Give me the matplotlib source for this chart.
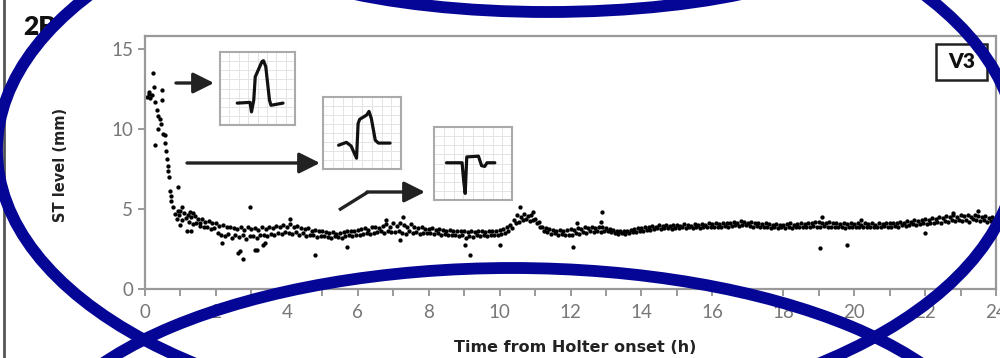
import numpy as np
import matplotlib
matplotlib.use("Agg")
import matplotlib.pyplot as plt
from matplotlib.patches import Ellipse, Rectangle

plt.rcParams['font.family'] = ['Lato', 'DejaVu Sans']

# ---- data ----
# steep early part (0-1 h)
early_t = [0.05, 0.10, 0.12, 0.14, 0.19, 0.23, 0.26, 0.28, 0.28, 0.33, 0.36, 0.38, 0.42, 0.45,
           0.47, 0.47, 0.50, 0.56, 0.56, 0.60, 0.61, 0.64, 0.66, 0.69, 0.70, 0.72, 0.74, 0.80,
           0.85, 0.89, 0.92, 0.94, 0.96, 0.99]
early_st = [12.0, 12.3, 12.2, 11.9, 12.1, 13.5, 12.6, 11.7, 9.0, 11.2, 10.8, 10.0, 10.6, 10.3,
            12.4, 11.8, 9.7, 9.6, 9.1, 8.6, 8.1, 7.7, 7.4, 7.0, 6.1, 5.8, 5.5, 5.15,
            4.7, 4.4, 4.9, 6.4, 4.6, 4.0]

# plateau readings, one every 3 min from 1 h to 24 h
st_01_06 = [4.9, 4.3, 4.75, 4.45, 4.6, 4.2, 4.5, 4.05, 4.55, 4.1, 4.35, 3.95, 4.4, 3.85, 4.2, 3.9, 4.25, 3.75, 4.1, 3.8,
            4.1, 3.5, 3.95, 3.4, 4.0, 3.3, 3.85, 3.45, 3.9, 3.2, 3.8, 3.35, 3.75, 3.25, 3.9, 3.4, 3.7, 3.15, 3.85, 3.3,
            3.75, 3.3, 3.8, 3.2, 3.7, 3.35, 3.85, 3.4, 3.75, 3.3, 3.9, 3.45, 3.8, 3.4, 3.95, 3.5, 3.85, 3.45, 4.0, 3.55,
            3.9, 3.5, 4.05, 3.45, 3.85, 3.55, 3.95, 3.4, 3.8, 3.5, 3.75, 3.3, 3.8, 3.4, 3.65, 3.35, 3.7, 3.25, 3.6, 3.3,
            3.6, 3.3, 3.55, 3.25, 3.5, 3.2, 3.55, 3.3, 3.45, 3.25, 3.5, 3.2, 3.55, 3.3, 3.6, 3.35, 3.6, 3.3, 3.65, 3.4]
st_06_12 = [3.7, 3.4, 3.75, 3.45, 3.8, 3.5, 3.7, 3.45, 3.85, 3.5, 3.9, 3.55, 3.8, 3.6, 3.95, 3.5, 4.05, 3.6, 3.9, 3.55,
            4.1, 3.55, 3.95, 3.6, 4.15, 3.5, 4.0, 3.45, 3.9, 3.6, 4.05, 3.5, 3.85, 3.55, 3.8, 3.45, 3.85, 3.5, 3.75, 3.5,
            3.75, 3.5, 3.8, 3.45, 3.7, 3.5, 3.75, 3.4, 3.7, 3.45, 3.65, 3.4, 3.7, 3.35, 3.6, 3.4, 3.65, 3.3, 3.6, 3.35,
            3.6, 3.2, 3.55, 3.3, 3.6, 3.25, 3.55, 3.35, 3.65, 3.3, 3.6, 3.35, 3.55, 3.3, 3.6, 3.4, 3.65, 3.35, 3.6, 3.4,
            3.7, 3.45, 3.75, 3.5, 3.85, 3.6, 4.0, 3.8, 4.3, 4.1, 4.6, 4.2, 4.5, 4.3, 4.7, 4.35, 4.55, 4.25, 4.6, 4.3,
            4.4, 4.1, 4.2, 3.9, 3.9, 3.6, 3.8, 3.55, 3.75, 3.45, 3.7, 3.5, 3.65, 3.4, 3.7, 3.45, 3.65, 3.4, 3.7, 3.35]
st_12_18 = [3.75, 3.4, 3.7, 3.5, 3.8, 3.45, 3.75, 3.55, 3.85, 3.5, 3.8, 3.6, 3.9, 3.55, 3.8, 3.6, 3.85, 3.55, 3.9, 3.6,
            3.8, 3.6, 3.75, 3.55, 3.7, 3.5, 3.65, 3.45, 3.6, 3.5, 3.65, 3.45, 3.6, 3.5, 3.7, 3.55, 3.75, 3.55, 3.8, 3.6,
            3.8, 3.65, 3.85, 3.7, 3.9, 3.7, 3.95, 3.75, 3.9, 3.8, 4.0, 3.75, 3.95, 3.8, 4.0, 3.8, 3.95, 3.75, 4.0, 3.8,
            4.0, 3.8, 3.95, 3.85, 4.05, 3.8, 4.0, 3.85, 3.95, 3.8, 4.05, 3.85, 4.0, 3.8, 4.05, 3.85, 4.0, 3.85, 4.1, 3.85,
            4.05, 3.9, 4.1, 3.85, 4.05, 3.9, 4.15, 3.95, 4.1, 3.9, 4.15, 3.95, 4.2, 4.0, 4.15, 3.95, 4.25, 4.0, 4.2, 4.0,
            4.15, 3.95, 4.2, 3.9, 4.1, 3.95, 4.15, 3.85, 4.05, 3.9, 4.1, 3.85, 4.05, 3.8, 4.0, 3.85, 4.05, 3.8, 4.0, 3.85]
st_18_24 = [4.0, 3.8, 4.05, 3.85, 4.1, 3.8, 4.0, 3.85, 4.05, 3.9, 4.1, 3.85, 4.05, 3.9, 4.15, 3.9, 4.1, 3.95, 4.2, 3.9,
            4.2, 3.85, 4.15, 3.95, 4.1, 3.9, 4.2, 3.85, 4.1, 3.9, 4.15, 3.85, 4.05, 3.9, 4.1, 3.8, 4.05, 3.85, 4.1, 3.9,
            4.05, 3.85, 4.1, 3.9, 4.0, 3.85, 4.1, 3.9, 4.05, 3.85, 4.1, 3.9, 4.0, 3.85, 4.1, 3.9, 4.05, 3.95, 4.15, 3.9,
            4.1, 3.9, 4.15, 3.95, 4.1, 3.9, 4.2, 4.0, 4.15, 3.95, 4.25, 4.0, 4.2, 4.05, 4.3, 4.0, 4.25, 4.05, 4.3, 4.1,
            4.35, 4.05, 4.3, 4.1, 4.45, 4.15, 4.4, 4.2, 4.5, 4.15, 4.45, 4.25, 4.55, 4.2, 4.5, 4.3, 4.6, 4.25, 4.5, 4.3,
            4.6, 4.25, 4.55, 4.3, 4.65, 4.2, 4.5, 4.35, 4.6, 4.3, 4.55, 4.25, 4.5, 4.3, 4.55, 4.2, 4.45, 4.25, 4.5, 4.3]

# isolated points away from the band
out_t = [1.03, 1.27, 1.36, 1.18, 1.30, 1.55, 2.16, 2.63, 2.77, 2.68, 2.96, 3.10, 3.15, 3.33, 3.38,
         4.09, 4.79, 5.69, 6.81, 7.19, 7.28, 9.02, 9.17, 10.0, 10.57, 10.95, 12.07, 12.17, 12.85,
         12.88, 19.04, 19.08, 19.79, 20.2, 22.0, 22.8, 23.8, 23.5]
out_st = [5.15, 4.8, 4.75, 3.6, 3.6, 4.1, 2.85, 2.27, 1.9, 2.35, 5.1, 2.45, 2.45, 2.75, 2.9,
          4.4, 2.1, 2.65, 4.3, 3.06, 4.5, 2.75, 2.1, 2.75, 5.15, 4.8, 2.65, 4.1, 4.2,
          4.83, 2.54, 4.5, 2.75, 4.3, 3.48, 4.75, 3.5, 4.9]

plateau_st = st_01_06 + st_06_12 + st_12_18 + st_18_24
plateau_t = 1.0 + 0.05 * np.arange(len(plateau_st))

# ECG snippets inside the three inset boxes (box-normalised coordinates)
ecg1_u = [0.23, 0.40, 0.42, 0.45, 0.47, 0.50, 0.56, 0.58, 0.61, 0.66, 0.68, 0.84]
ecg1_v = [0.30, 0.31, 0.18, 0.34, 0.66, 0.73, 0.87, 0.88, 0.80, 0.34, 0.27, 0.30]
ecg2_u = [0.20, 0.30, 0.36, 0.43, 0.45, 0.47, 0.56, 0.59, 0.62, 0.67, 0.71, 0.86]
ecg2_v = [0.33, 0.37, 0.32, 0.15, 0.63, 0.69, 0.75, 0.80, 0.70, 0.40, 0.36, 0.36]
ecg3_u = [0.16, 0.36, 0.38, 0.40, 0.42, 0.57, 0.61, 0.65, 0.68, 0.78]
ecg3_v = [0.51, 0.51, 0.27, 0.09, 0.59, 0.60, 0.47, 0.46, 0.51, 0.51]

W, H = 1000, 358
fig = plt.figure(figsize=(10, 3.58), dpi=100)

def px_axes(x0, y0, x1, y1, **kw):
    return fig.add_axes([x0 / W, 1 - y1 / H, (x1 - x0) / W, (y1 - y0) / H], **kw)

ax = px_axes(145, 36, 996, 289)
for tt, ss in [(early_t, early_st), (plateau_t, plateau_st), (out_t, out_st)]:
    ax.plot(tt, ss, 'o', color='black', ms=3.1, mew=0)

ax.set_xlim(0, 24)
ax.set_ylim(0, 15.8)
ax.set_xticks(range(0, 25, 2))
ax.set_xticks(range(0, 25, 1), minor=True)
ax.set_yticks([0, 5, 10, 15])
ax.tick_params(which='both', direction='out', length=5, width=1.2, color='#888888',
               labelcolor='#777777', labelsize=13.5)
ax.tick_params(axis='x', pad=6)
for s in ax.spines.values():
    s.set_color('#999999')
    s.set_linewidth(1.6)
ax.set_xlabel('Time from Holter onset (h)', fontsize=11.5, fontweight='bold', color='#222222',
              family='DejaVu Sans')
ax.set_ylabel('ST level (mm)', fontsize=10.5, fontweight='bold', color='#222222',
              family='DejaVu Sans')
ax.xaxis.set_label_coords(0.505, -0.2)
ax.yaxis.set_label_coords(-0.09, 0.49)

# inset ECG boxes
for (x0, y0, x1, y1), u, v in [((220, 52, 295, 125), ecg1_u, ecg1_v),
                               ((323, 97, 401, 169), ecg2_u, ecg2_v),
                               ((434, 127, 512, 200), ecg3_u, ecg3_v)]:
    ia = px_axes(x0, y0, x1, y1)
    ia.set_xlim(0, 1)
    ia.set_ylim(0, 1)
    for g in np.linspace(0, 1, 9)[1:-1]:
        ia.axvline(g, color='#e4e4e4', lw=0.7)
        ia.axhline(g, color='#e4e4e4', lw=0.7)
    ia.plot(u, v, color='#111111', lw=2.3, solid_joinstyle='round', solid_capstyle='round')
    ia.set_xticks([])
    ia.set_yticks([])
    for s in ia.spines.values():
        s.set_color('#aaaaaa')
        s.set_linewidth(1.5)

# overlay in pixel coordinates: arrows, labels, pen marks
ov = px_axes(0, 0, W, H)
ov.set_xlim(0, W)
ov.set_ylim(H, 0)
ov.axis('off')
ov.patch.set_alpha(0)

arrow_kw = dict(arrowstyle='-|>,head_length=0.9,head_width=0.45', color='#222222', lw=2.4,
                mutation_scale=14, shrinkA=0, shrinkB=0)
ov.annotate('', xy=(214, 83), xytext=(176, 83), arrowprops=arrow_kw)
ov.annotate('', xy=(320, 163), xytext=(187, 163), arrowprops=arrow_kw)
ov.plot([339, 368], [210, 192], color='#222222', lw=2.4, solid_capstyle='butt')
ov.annotate('', xy=(425, 192), xytext=(367, 192), arrowprops=arrow_kw)

ov.plot([4, 4], [0, H], color='#555555', lw=2)
ov.text(40, 27, '2B', fontsize=19, fontweight='heavy', ha='center', va='center', color='#111111')
ov.add_patch(Rectangle((936, 44), 51, 36, fill=False, ec='#222222', lw=1.8))
ov.text(961.5, 62, 'V3', fontsize=15, fontweight='heavy', ha='center', va='center', color='#111111')

pen = '#050596'
for cx, cy, a, b in [(507, 150, 510, 270), (548, -70, 310, 82), (512, 468, 480, 200)]:
    ov.add_patch(Ellipse((cx, cy), 2 * a, 2 * b, fill=False, ec=pen, lw=8.5, zorder=10))

fig.savefig('out.png', dpi=100)
